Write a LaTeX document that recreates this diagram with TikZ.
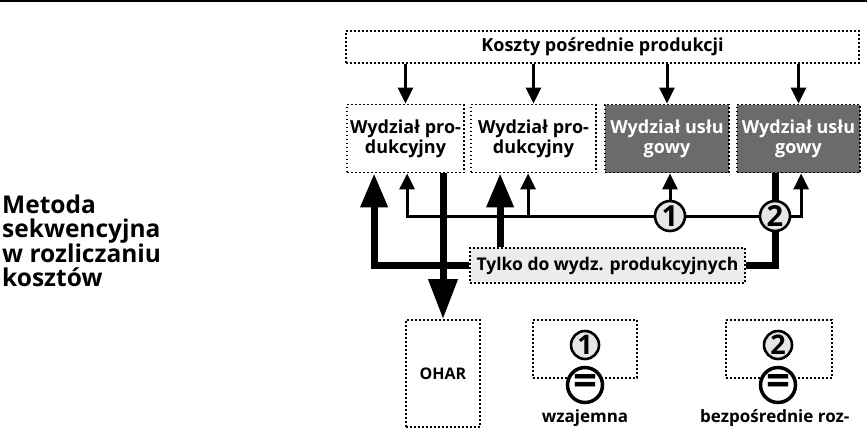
\documentclass[tikz,border=0pt]{standalone}
\usepackage{fontspec}
\setmainfont{Open Sans}
\usetikzlibrary{arrows.meta}
\definecolor{deptgray}{RGB}{107,107,107}
\definecolor{lightfill}{RGB}{236,236,236}
\definecolor{circfill}{RGB}{230,230,230}
\begin{document}
\begin{tikzpicture}[x=1pt,y=-1pt,
  dotbox/.style={draw, line width=1.8pt, dash pattern=on 1.8pt off 2.2pt, inner sep=0pt, align=center, font=\bfseries\fontsize{18}{20}\selectfont},
  deptbox/.style={dotbox, minimum height=68pt, execute at begin node={\rule{0pt}{19.5pt}}},
  graybox/.style={deptbox, fill=deptgray, text=white},
  numcirc/.style={circle, draw, line width=2.6pt, fill=circfill, minimum size=30pt, inner sep=0pt, font=\bfseries\fontsize{29}{29}\selectfont},
  eqcirc/.style={circle, draw, line width=3.5pt, fill=white, minimum size=35pt, inner sep=0pt, font=\bfseries\fontsize{42}{42}\selectfont},
  thinline/.style={line width=3pt},
  thinarrow/.style={thinline, -{Triangle[length=16pt,width=15pt]}},
  thickline/.style={line width=7pt},
  thickarrow/.style={thickline, -{Triangle[length=34pt,width=26pt]}},
  bigarrow/.style={thickline, -{Triangle[length=40pt,width=28pt]}},
  plain/.style={inner sep=0pt, font=\bfseries\fontsize{17}{20}\selectfont}
]
\useasboundingbox (0,0) rectangle (867,429);
\draw[line width=1.5pt] (0,1) coordinate (ruleL) -- (867,1) coordinate (ruleR);

\node[plain, anchor=north west, align=left, font=\bfseries\fontsize{24.5}{23.5}\selectfont] (title) at (2,195) {Metoda\\sekwencyjna\\w rozliczaniu\\kosztów};

\node[dotbox, minimum width=513pt, minimum height=32pt, font=\bfseries\fontsize{18}{20}\selectfont] (top) at (602.5,47) {Koszty pośrednie produkcji};

\node[deptbox, minimum width=117pt] (d1) at (405.5,138.5) {Wydział pro-\\dukcyjny};
\node[deptbox, minimum width=125pt] (d2) at (533.5,138.5) {Wydział pro-\\dukcyjny};
\node[graybox, minimum width=124pt] (d3) at (667,138.5) {Wydział usłu\\gowy};
\node[graybox, minimum width=123pt] (d4) at (798.5,138.5) {Wydział usłu\\gowy};

\node[dotbox, fill=lightfill, minimum width=275pt, minimum height=35pt, font=\bfseries\fontsize{17.5}{20}\selectfont] (tylko) at (607.5,265.5) {Tylko do wydz. produkcyjnych};

\node[numcirc] (c1) at (670,216) {1};
\node[numcirc] (c2) at (775,216) {2};

\node[dotbox, minimum width=74pt, minimum height=107pt, font=\bfseries\fontsize{16}{18}\selectfont] (ohar) at (443,373.5) {OHAR};
\node[dotbox, minimum width=104pt, minimum height=58pt] (b1) at (585,349) {};
\node[dotbox, minimum width=106pt, minimum height=58pt] (b2) at (779,349) {};
\node[numcirc, minimum size=28pt, font=\bfseries\fontsize{27}{27}\selectfont] (n1) at (585,345) {1};
\node[numcirc, minimum size=28pt, font=\bfseries\fontsize{27}{27}\selectfont] (n2) at (778,345) {2};
\node[eqcirc] (e1) at (585,385) {=};
\node[eqcirc] (e2) at (778,385) {=};
\node[plain] (wz) at (585,418) {wzajemna};
\node[plain, anchor=west] (bz) at (700,418) {bezpośrednie roz-};

% arrows from top box
\draw[thinarrow] (top.south -| d1.north) -- (d1.north);
\draw[thinarrow] (top.south -| d2.north) -- (d2.north);
\draw[thinarrow] (top.south -| d3.north) -- (d3.north);
\draw[thinarrow] (top.south -| d4.north) -- (d4.north);

% thin distribution line
\coordinate (d1in) at ([xshift=61pt]d1.south west);
\coordinate (d2in) at ([xshift=58pt]d2.south west);
\coordinate (d4in) at ([xshift=65pt]d4.south west);
\draw[thinarrow] (c1.west) -| (d1in);
\draw[thinarrow] (d2in |- c1.west) -- (d2in);
\draw[thinarrow] (c1.north) -- (c1.north |- d3.south);
\draw[thinline] (c1.east) -- (c2.west);
\draw[thinarrow] (c2.east) -| (d4in);

% thick lines
\coordinate (d1thick) at ([xshift=28pt]d1.south west);
\coordinate (d2thick) at ([xshift=30pt]d2.south west);
\draw[thickline] (c2.north |- d4.south) -- (c2.north);
\draw[thickline] (c2.south) |- (tylko.east);
\draw[thickarrow] (tylko.west) -| (d1thick);
\draw[thickarrow] (tylko.north -| d2thick) -- (d2thick);
\draw[bigarrow] (ohar.north |- d1.south) -- (ohar.north);
\end{tikzpicture}
\end{document}
